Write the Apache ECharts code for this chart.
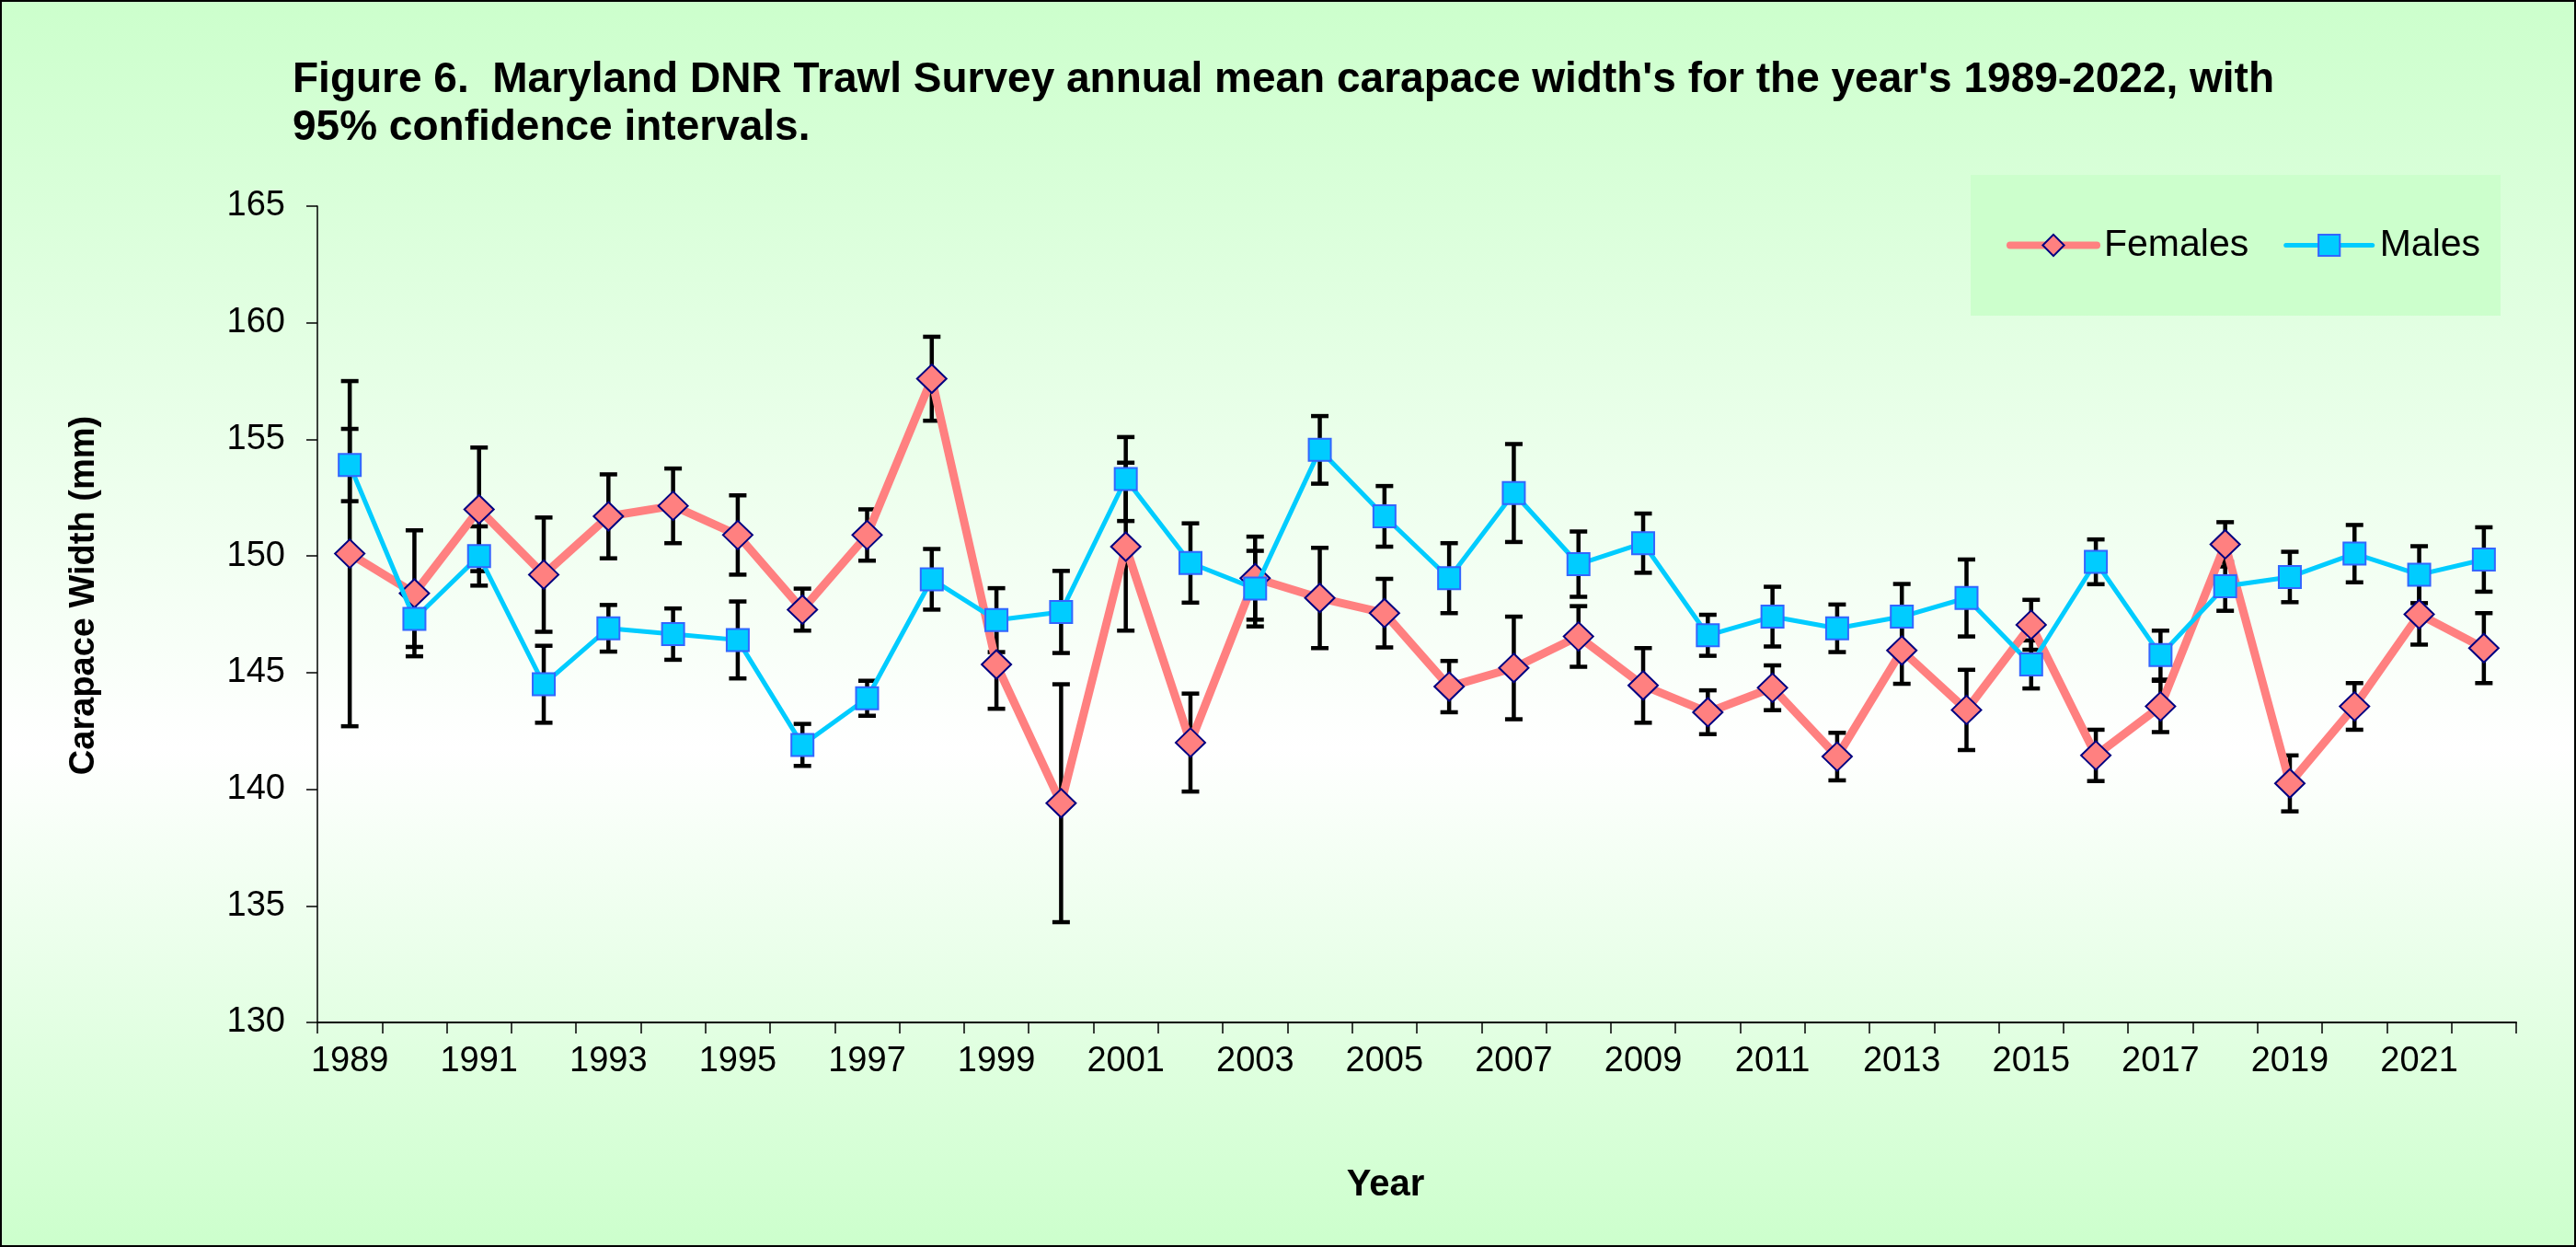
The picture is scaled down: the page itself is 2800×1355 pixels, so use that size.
<!DOCTYPE html>
<html>
<head>
<meta charset="utf-8">
<script src="https://cdn.jsdelivr.net/npm/echarts@6/dist/echarts.min.js"></script>
<style>
html,body{margin:0;padding:0;}
#chart{width:2800px;height:1355px;background:linear-gradient(to bottom,#ccffcc 0%,#ffffff 60%,#ccffcc 100%);}
</style>
</head>
<body>
<div id="chart"></div>
<script>
var years = ['1989','1990','1991','1992','1993','1994','1995','1996','1997','1998','1999','2000','2001','2002','2003','2004','2005','2006','2007','2008','2009','2010','2011','2012','2013','2014','2015','2016','2017','2018','2019','2020','2021','2022'];
var femalesMean = [150.1,148.4,152.0,149.2,151.7,152.15,150.9,147.7,150.9,157.6,145.35,139.4,150.4,142.0,149.05,148.2,147.55,144.4,145.2,146.55,144.45,143.3,144.35,141.4,145.95,143.4,147.05,141.45,143.55,150.5,140.25,143.55,147.5,146.05];
var femalesCI = [7.4,2.7,2.65,2.45,1.8,1.6,1.7,0.9,1.1,1.8,1.9,5.1,3.6,2.1,1.78,2.15,1.47,1.1,2.2,1.3,1.6,0.94,0.96,1.02,1.43,1.72,1.07,1.1,1.1,0.95,1.2,1.0,1.3,1.5];
var malesMean = [153.9,147.3,150.0,144.5,146.9,146.65,146.4,141.9,143.9,149.0,147.25,147.6,153.3,149.7,148.6,154.55,151.7,149.05,152.7,149.65,150.55,146.6,147.4,146.9,147.4,148.2,145.35,149.75,145.75,148.7,149.1,150.1,149.2,149.85];
var malesCI = [1.55,1.2,1.27,1.65,1.0,1.1,1.65,0.9,0.75,1.3,1.37,1.76,1.8,1.7,1.62,1.45,1.3,1.5,2.1,1.4,1.27,0.88,1.28,1.02,1.4,1.65,1.03,0.96,1.05,1.05,1.08,1.23,1.22,1.38];
var yTicks = {min:130, max:165, interval:5};

var FONT = "'Liberation Sans', Arial, Helvetica, sans-serif";

function ciData(mean, ci){
  return mean.map(function(m,i){ return [i, +(m-ci[i]).toFixed(3), +(m+ci[i]).toFixed(3)]; });
}

function renderErr(params, api){
  var x = api.value(0), lo = api.value(1), hi = api.value(2);
  var pLo = api.coord([x, lo]), pHi = api.coord([x, hi]);
  var h = 9.5;
  var st = {stroke:'#000000', lineWidth:4.5};
  return {type:'group', children:[
    {type:'line', shape:{x1:pLo[0],y1:pLo[1],x2:pHi[0],y2:pHi[1]}, style:st},
    {type:'line', shape:{x1:pLo[0]-h,y1:pLo[1],x2:pLo[0]+h,y2:pLo[1]}, style:st},
    {type:'line', shape:{x1:pHi[0]-h,y1:pHi[1],x2:pHi[0]+h,y2:pHi[1]}, style:st}
  ]};
}

var chart = echarts.init(document.getElementById('chart'), null, {renderer:'canvas'});
chart.setOption({
  animation:false,
  backgroundColor:'transparent',
  textStyle:{fontFamily:FONT},
  title:{
    text:"Figure 6.  Maryland DNR Trawl Survey annual mean carapace width's for the year's 1989-2022, with\n95% confidence intervals.",
    left:313, top:56,
    textStyle:{fontFamily:FONT, fontSize:46, fontWeight:'bold', color:'#000', lineHeight:52}
  },
  legend:{
    data:[
      {name:'Females', lineStyle:{width:8, color:'#ff8080', cap:'round'}, itemStyle:{color:'#ff8080', borderColor:'#000080', borderWidth:2}},
      {name:'Males', lineStyle:{width:5, color:'#00ccff', cap:'round'}, itemStyle:{color:'#00ccff', borderColor:'#3366ff', borderWidth:2}}
    ],
    left:2181, top:246,
    itemWidth:94, itemHeight:29, itemGap:38,
    padding:0,
    textStyle:{fontFamily:FONT, fontSize:41, color:'#000', padding:[0,0,0,3]}
  },
  grid:{left:345, right:65, top:224, bottom:244, containLabel:false},
  xAxis:{
    type:'category', data:years, boundaryGap:true,
    axisLine:{lineStyle:{color:'#000', width:2}},
    axisTick:{show:true, interval:0, length:12, lineStyle:{color:'#000', width:1.5}},
    axisLabel:{interval:1, fontFamily:FONT, fontSize:38, color:'#000', margin:24},
    splitLine:{show:false}
  },
  yAxis:{
    type:'value', min:yTicks.min, max:yTicks.max, interval:yTicks.interval,
    axisLine:{show:true, lineStyle:{color:'#000', width:1.5}},
    axisTick:{show:true, length:12, lineStyle:{color:'#000', width:1.5}},
    axisLabel:{fontFamily:FONT, fontSize:38, color:'#000', margin:35},
    splitLine:{show:false}
  },
  graphic:[
    {type:'rect', silent:true, z:-1, shape:{x:2142, y:190, width:576, height:153}, style:{fill:'#ccffcc'}},
    {type:'rect', silent:true, shape:{x:1, y:1, width:2798, height:1353}, style:{fill:'none', stroke:'#000', lineWidth:2}},
    {type:'text', silent:true, x:92, y:647, rotation:Math.PI/2,
      style:{text:'Carapace Width (mm)', font:'bold 38px '+FONT, fill:'#000', textAlign:'center', textVerticalAlign:'middle', align:'center', verticalAlign:'middle'}},
    {type:'text', silent:true, x:1506, y:1288,
      style:{text:'Year', font:'bold 40px '+FONT, fill:'#000', textAlign:'center', textVerticalAlign:'middle', align:'center', verticalAlign:'middle'}}
  ],
  series:[
    {name:'Females CI', type:'custom', renderItem:renderErr, data:ciData(femalesMean, femalesCI), encode:{x:0, y:[1,2]}, z:1, silent:true},
    {name:'Males CI', type:'custom', renderItem:renderErr, data:ciData(malesMean, malesCI), encode:{x:0, y:[1,2]}, z:1, silent:true},
    {name:'Females', type:'line', data:femalesMean, z:3,
      symbol:'diamond', symbolSize:[32,31], showSymbol:true,
      lineStyle:{color:'#ff8080', width:9},
      itemStyle:{color:'#ff8080', borderColor:'#000080', borderWidth:2}},
    {name:'Males', type:'line', data:malesMean, z:4,
      symbol:'rect', symbolSize:24, showSymbol:true,
      lineStyle:{color:'#00ccff', width:5},
      itemStyle:{color:'#00ccff', borderColor:'#3366ff', borderWidth:2}}
  ]
});
</script>
</body>
</html>
